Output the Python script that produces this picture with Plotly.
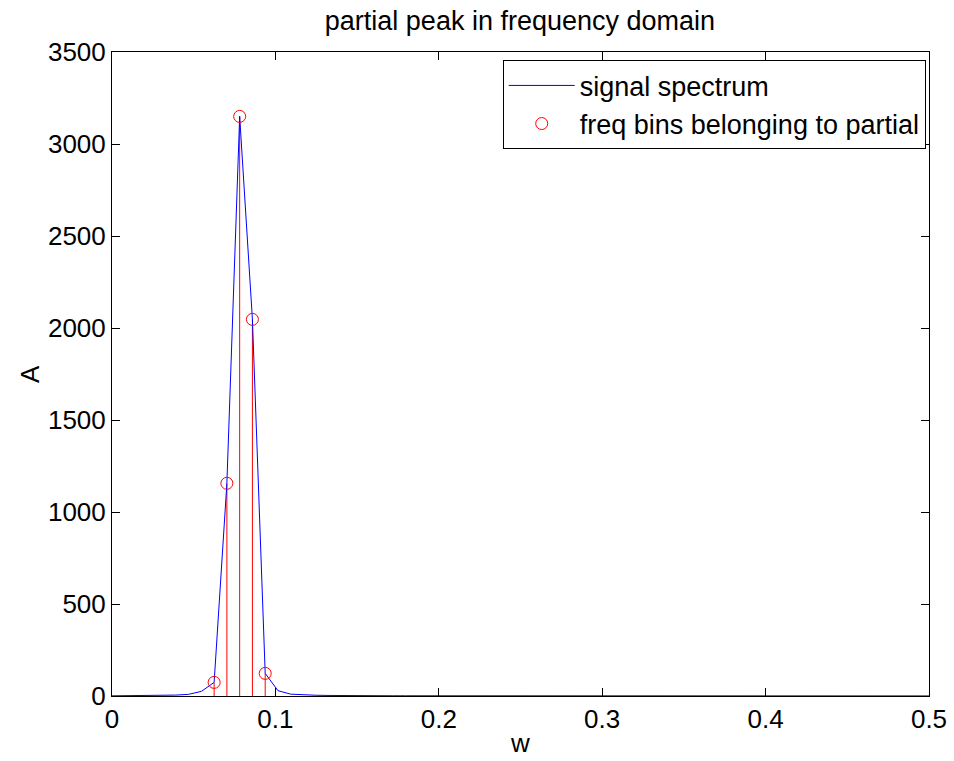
import plotly.graph_objects as go

# spectrum sampled at k/128, k = 0..64
bin_index = list(range(65))
freq = [k / 128 for k in bin_index]
spectrum = [1, 1, 2, 2, 3, 5, 9, 25, 74, 1156, 3150, 2047, 123, 29, 10, 6,
            4, 3, 2, 2, 1.5, 1.4, 1.3, 1.2, 1.1, 1, 1, 0.9, 0.9, 0.8, 0.8, 0.8,
            0.7, 0.7, 0.7, 0.7, 0.6, 0.6, 0.6, 0.6, 0.6, 0.6, 0.5, 0.5, 0.5, 0.5,
            0.5, 0.5, 0.5, 0.5, 0.5, 0.5, 0.5, 0.5, 0.5, 0.5, 0.5, 0.5, 0.5, 0.5,
            0.5, 0.5, 0.5, 0.5, 0.5]

partial_bins = [8, 9, 10, 11, 12]
partial_freq = [freq[k] for k in partial_bins]
partial_amp = [spectrum[k] for k in partial_bins]

x_ticks = [0, 0.1, 0.2, 0.3, 0.4, 0.5]
x_tick_labels = ["0", "0.1", "0.2", "0.3", "0.4", "0.5"]
y_ticks = [0, 500, 1000, 1500, 2000, 2500, 3000, 3500]

FONT = "Liberation Sans, Arial, Helvetica, sans-serif"

stem_x, stem_y = [], []
for fx, fy in zip(partial_freq, partial_amp):
    stem_x += [fx, fx, None]
    stem_y += [0, fy, None]

fig = go.Figure()
fig.add_trace(go.Scatter(x=stem_x, y=stem_y, mode="lines",
                         line=dict(color="#ff0000", width=1),
                         showlegend=False, hoverinfo="skip"))
fig.add_trace(go.Scatter(x=freq, y=spectrum, mode="lines",
                         line=dict(color="#0000ff", width=1),
                         name="signal spectrum"))
fig.add_trace(go.Scatter(x=partial_freq, y=partial_amp, mode="markers",
                         marker=dict(symbol="circle-open", size=12,
                                     color="#ff0000", line=dict(width=1, color="#ff0000")),
                         name="freq bins belonging to partial"))

axis_common = dict(showline=True, linecolor="black", linewidth=1, mirror="ticks",
                   ticks="inside", ticklen=8, tickcolor="black", tickwidth=1,
                   showgrid=False, zeroline=False, automargin=False,
                   tickfont=dict(family=FONT, size=26, color="black"))

fig.update_layout(
    width=954, height=761,
    margin=dict(l=112, r=25, t=52, b=65),
    paper_bgcolor="white", plot_bgcolor="white",
    title=dict(text="partial peak in frequency domain", x=0.545, xanchor="center",
               y=0.973, yanchor="middle",
               font=dict(family=FONT, size=27, color="black")),
    xaxis=dict(range=[0, 0.5], tickvals=x_ticks, ticktext=x_tick_labels,
               ticklabelstandoff=0,
               title=dict(text="w", font=dict(family=FONT, size=26, color="black"), standoff=0),
               **axis_common),
    yaxis=dict(range=[0, 3500], tickvals=y_ticks,
               ticklabelstandoff=0,
               **axis_common),
    legend=dict(x=0.996, y=0.987, xanchor="right", yanchor="top",
                bgcolor="white", bordercolor="black", borderwidth=1,
                font=dict(family=FONT, size=27, color="black"),
                itemwidth=66, tracegroupgap=0),
    annotations=[dict(text="A", xref="paper", yref="paper", x=-0.1004, y=0.5,
                      xanchor="center", yanchor="middle", textangle=-90,
                      showarrow=False, font=dict(family=FONT, size=26, color="black"))],
    showlegend=True,
)

fig.write_html("out.html")
